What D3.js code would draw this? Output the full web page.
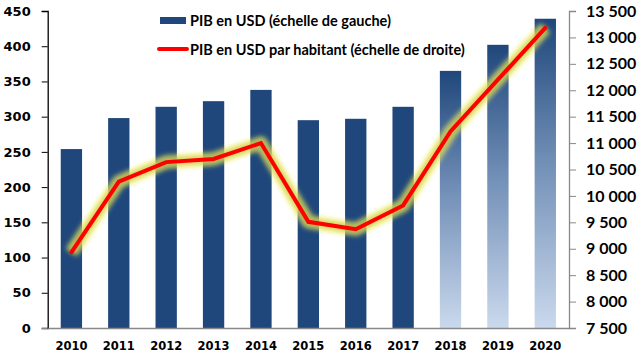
<!DOCTYPE html>
<html>
<head>
<meta charset="utf-8">
<script src="https://cdn.jsdelivr.net/npm/d3@7"></script>
<style>
  body { margin: 0; background: #fff; }
  svg { display: block; }
</style>
</head>
<body>
<div id="chartArea"></div>
<script>
// data
var years = ["2010", "2011", "2012", "2013", "2014", "2015", "2016", "2017", "2018", "2019", "2020"];
var pibUSD = [254, 298, 314, 322, 338, 295, 297, 314, 365, 402, 439];          // left scale (bars)
var pibParHab = [8930, 10270, 10640, 10700, 11000, 9510, 9370, 9820, 11220, 12200, 13180]; // right scale (line)
var projected = [false, false, false, false, false, false, false, false, true, true, true];
var leftTicks = [0, 50, 100, 150, 200, 250, 300, 350, 400, 450];
var rightTicks = [7500, 8000, 8500, 9000, 9500, 10000, 10500, 11000, 11500, 12000, 12500, 13000, 13500];
var legendLabels = ["PIB en USD (échelle de gauche)", "PIB en USD par habitant (échelle de droite)"];

var W = 640, H = 361;
// plot box (careful: "top" is taken by window.top)
var plotL = 47.7, plotR = 569, plotT = 11, plotB = 328;

var svg = d3.select("#chartArea").append("svg")
    .attr("width", W)
    .attr("height", H);

var defs = svg.append("defs");
var grad = defs.append("linearGradient")
    .attr("id", "barGrad")
    .attr("x1", 0).attr("y1", 0).attr("x2", 0).attr("y2", 1);
grad.append("stop").attr("offset", "0%").attr("stop-color", "#1f477b");
grad.append("stop").attr("offset", "45%").attr("stop-color", "#6f8db5");
grad.append("stop").attr("offset", "100%").attr("stop-color", "#cad9ed");

var glow = defs.append("filter").attr("id", "glow")
    .attr("x", "-20%").attr("y", "-20%").attr("width", "140%").attr("height", "140%");
glow.append("feGaussianBlur").attr("stdDeviation", 2.8);

var x = d3.scaleBand()
    .domain(years)
    .range([plotL, plotR])
    .paddingInner(0.55)
    .paddingOuter(0.275);

var yL = d3.scaleLinear().domain([0, 450]).range([plotB, plotT]);
var yR = d3.scaleLinear().domain([7500, 13500]).range([plotB, plotT]);

var fmtR = function (v) {
    return d3.format(",")(v).replace(/,/g, " ");
};

// bars
svg.append("g").attr("class", "bars")
    .selectAll("rect")
    .data(pibUSD)
    .enter().append("rect")
    .attr("x", (d, i) => x(years[i]))
    .attr("y", d => yL(d))
    .attr("width", x.bandwidth())
    .attr("height", d => plotB - yL(d))
    .attr("fill", (d, i) => projected[i] ? "url(#barGrad)" : "#1f477b");

// axes
var axL = svg.append("g")
    .attr("transform", "translate(" + plotL + ",0)")
    .call(d3.axisLeft(yL).tickValues(leftTicks).tickSize(6).tickPadding(11));
axL.select(".domain").attr("stroke", "#000").attr("stroke-width", 1.3);
axL.selectAll(".tick line").attr("stroke", "#000");
axL.selectAll("text")
    .attr("font-family", "DejaVu Sans")
    .attr("font-weight", "bold")
    .attr("font-size", "13px")
    .attr("fill", "#000");
axL.select(".tick line").attr("stroke", "#888");

var axR = svg.append("g")
    .attr("transform", "translate(" + plotR + ",0)")
    .call(d3.axisRight(yR).tickValues(rightTicks).tickFormat(fmtR).tickSize(7).tickPadding(10));
axR.select(".domain").attr("stroke", "#888").attr("stroke-width", 1.3);
axR.selectAll(".tick line").attr("stroke", "#888");
axR.selectAll("text")
    .attr("font-family", "Lato")
    .attr("font-weight", "bold")
    .attr("font-size", "16px")
    .attr("fill", "#000");

var axB = svg.append("g")
    .attr("transform", "translate(0," + plotB + ")")
    .call(d3.axisBottom(x).tickSize(0).tickPadding(14));
axB.select(".domain").attr("stroke", "#888").attr("stroke-width", 1.3);
axB.selectAll("text")
    .attr("font-family", "DejaVu Sans")
    .attr("font-weight", "bold")
    .attr("font-size", "11.5px")
    .attr("fill", "#000");

// line with yellow glow
var line = d3.line()
    .x((d, i) => x(years[i]) + x.bandwidth() / 2)
    .y(d => yR(d));

svg.append("path")
    .datum(pibParHab)
    .attr("d", line)
    .attr("fill", "none")
    .attr("stroke", "#f2f060")
    .attr("stroke-width", 13)
    .attr("stroke-linejoin", "round")
    .attr("opacity", 0.8)
    .attr("filter", "url(#glow)");
svg.append("path")
    .datum(pibParHab)
    .attr("d", line)
    .attr("fill", "none")
    .attr("stroke", "#8a8a2a")
    .attr("stroke-width", 7)
    .attr("stroke-linejoin", "round")
    .attr("opacity", 0.35)
    .attr("filter", "url(#glow)");
svg.append("path")
    .datum(pibParHab)
    .attr("d", line)
    .attr("fill", "none")
    .attr("stroke", "#ff0000")
    .attr("stroke-width", 4)
    .attr("stroke-linejoin", "miter")
    .attr("stroke-linecap", "round");

// legend
var legend = svg.append("g").attr("class", "legend");
legend.append("rect")
    .attr("x", 160).attr("y", 17)
    .attr("width", 26).attr("height", 7)
    .attr("fill", "#1f477b");
legend.append("line")
    .attr("x1", 159).attr("x2", 187)
    .attr("y1", 49).attr("y2", 49)
    .attr("stroke", "#ff0000")
    .attr("stroke-width", 4)
    .attr("stroke-linecap", "round");
legend.selectAll("text")
    .data(legendLabels)
    .enter().append("text")
    .attr("x", 190)
    .attr("y", (d, i) => 25.5 + i * 29.5)
    .attr("font-family", "Lato")
    .attr("font-weight", "bold")
    .attr("font-size", "14.5px")
    .attr("fill", "#000")
    .text(d => d);
</script>
</body>
</html>
